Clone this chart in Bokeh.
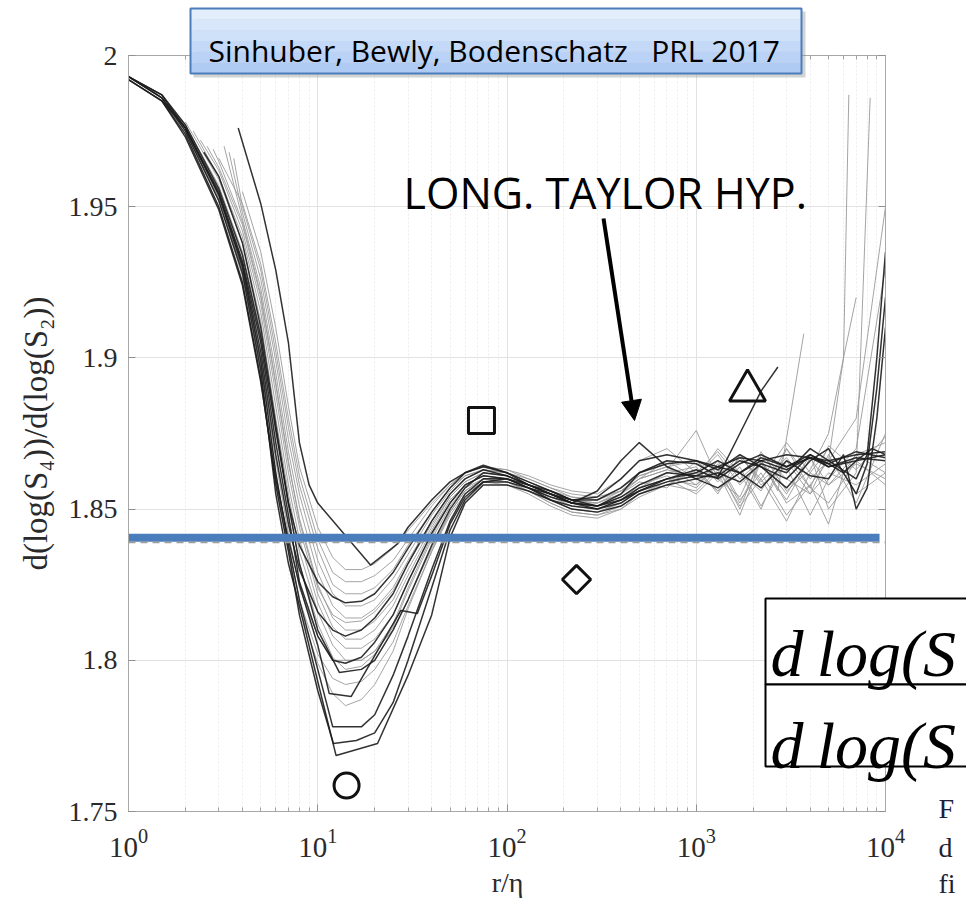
from bokeh.plotting import figure
from bokeh.layouts import column
from bokeh.models import (LogAxis, LinearAxis, FixedTicker, Label, Arrow, NormalHead, Span, Range1d)
from bokeh.core.properties import value
from bokeh.embed import file_html
from bokeh.resources import INLINE

# ---------------- data ----------------
x_major = [1, 10, 100, 1000, 10000]
y_major = [1.75, 1.8, 1.85, 1.9, 1.95, 2.0]

# dark curves: (r/eta, dlogS4/dlogS2)
d1 = [(1,1.993),(1.5,1.986),(2,1.975),(3,1.952),(4,1.928),(5,1.896),(6,1.855),(7,1.832),(8,1.818),(10,1.793),(12.5,1.7685),(20.7,1.7725),(30,1.795),(40,1.815),(50,1.8405),(60,1.852),(75,1.858),(100,1.858),(130,1.856),(170,1.853),(220,1.851),(300,1.850),(400,1.852),(500,1.856),(700,1.859),(1000,1.861),(1300,1.864),(1700,1.862),(2200,1.866),(3000,1.863),(4000,1.867),(5000,1.864),(7000,1.866),(10000,1.868)]
d2 = [(1,1.992),(1.5,1.985),(2,1.974),(3,1.950),(4,1.925),(5,1.893),(6,1.858),(7,1.836),(8,1.815),(10,1.790),(12.1,1.7725),(16,1.7735),(20,1.776),(25,1.786),(30,1.800),(40,1.824),(50,1.843),(60,1.853),(75,1.859),(100,1.859),(130,1.857),(170,1.855),(220,1.852),(300,1.851),(400,1.853),(500,1.856),(700,1.860),(1000,1.863),(1300,1.860),(1700,1.865),(2200,1.868),(3000,1.864),(4000,1.867),(5000,1.865),(7000,1.869),(10000,1.867)]
d3 = [(1,1.993),(1.5,1.987),(2,1.976),(3,1.954),(4,1.930),(5,1.899),(6,1.862),(7,1.838),(8,1.820),(10,1.797),(12,1.778),(17,1.778),(20,1.782),(25,1.795),(30,1.808),(40,1.830),(50,1.846),(60,1.855),(75,1.860),(100,1.860),(130,1.857),(170,1.854),(220,1.852),(300,1.851),(400,1.854),(500,1.858),(700,1.862),(1000,1.861),(1300,1.8605),(1700,1.875),(2200,1.889),(2700,1.897)]
d4 = [(1,1.992),(1.5,1.985),(2,1.973),(3,1.949),(4,1.924),(5,1.892),(6,1.860),(7,1.840),(8,1.825),(10,1.805),(11.5,1.789),(15,1.788),(27.5,1.8165),(33.6,1.8155),(40,1.828),(50,1.845),(60,1.854),(75,1.859),(100,1.860),(130,1.858),(170,1.855),(220,1.852),(300,1.850),(400,1.853),(500,1.857),(700,1.860),(1000,1.862),(1300,1.866),(1700,1.862),(2200,1.867),(3000,1.864),(4000,1.868),(5000,1.865),(6000,1.862),(7000,1.866),(8500,1.870),(10000,1.868)]
d5 = [(1,1.993),(1.5,1.987),(2,1.977),(3,1.956),(4,1.934),(5,1.907),(6,1.876),(7,1.852),(8,1.838),(10,1.826),(12,1.821),(14,1.819),(17,1.8195),(20,1.822),(25,1.829),(30,1.837),(40,1.849),(50,1.857),(60,1.862),(75,1.8645),(100,1.862),(130,1.858),(170,1.855),(220,1.853),(300,1.854),(400,1.860),(500,1.866),(700,1.868),(1000,1.866),(1300,1.864),(1700,1.867),(2200,1.866),(3000,1.868),(4000,1.867),(5000,1.866),(7000,1.868),(10000,1.869)]
d6 = [(3.8,1.976),(5,1.951),(6,1.929),(7,1.905),(8,1.872),(9,1.858),(10,1.852),(19,1.8315),(26.5,1.8386),(30,1.844),(40,1.853),(50,1.859),(60,1.862),(75,1.864),(100,1.862),(130,1.859),(170,1.856),(220,1.853),(300,1.853),(400,1.857),(500,1.862),(700,1.866),(1000,1.865),(1300,1.861),(1700,1.866),(2200,1.864),(3000,1.857),(4000,1.866),(5000,1.870),(6000,1.862),(7000,1.855),(8000,1.865),(9000,1.890),(10000,1.920)]
d7 = [(1,1.993),(1.5,1.986),(2,1.976),(3,1.954),(4,1.931),(5,1.902),(6,1.868),(7,1.845),(8,1.830),(10,1.816),(12,1.810),(14,1.808),(17,1.810),(20,1.814),(25,1.822),(30,1.832),(40,1.846),(50,1.855),(60,1.860),(75,1.863),(100,1.861),(130,1.858),(170,1.855),(220,1.852),(300,1.856),(400,1.866),(500,1.872),(700,1.864),(1000,1.860),(1300,1.862),(1700,1.859),(2200,1.865),(3000,1.862),(4000,1.870),(5000,1.866),(7000,1.860),(8000,1.868),(9000,1.900),(10000,1.935)]
d8 = [(1.5,1.985),(2,1.976),(3,1.955),(4,1.932),(5,1.905),(6,1.872),(7,1.848),(8,1.826),(10,1.808),(12,1.800),(14,1.799),(17,1.801),(20,1.806),(25,1.815),(30,1.826),(40,1.842),(50,1.852),(60,1.858),(75,1.861),(100,1.860),(130,1.857),(170,1.853),(220,1.850),(300,1.849),(400,1.851),(500,1.855),(700,1.858),(1000,1.860),(1300,1.857),(1700,1.862),(2200,1.857),(3000,1.866),(4000,1.861),(5000,1.860),(6000,1.868),(7000,1.850),(8000,1.857),(9000,1.880),(10000,1.910)]
d9 = [(2.5,1.968),(3,1.960),(4,1.938),(5,1.910),(6,1.878),(7,1.852),(8,1.832),(10,1.810),(13,1.796),(17,1.797),(20,1.800),(25,1.810),(30,1.820),(40,1.838),(50,1.850),(60,1.857),(75,1.862),(100,1.861),(130,1.858),(170,1.856),(220,1.853),(300,1.851),(400,1.855),(500,1.862),(700,1.865),(1000,1.866),(1300,1.863),(1700,1.868),(2200,1.864),(3000,1.860),(4000,1.868),(5000,1.864),(7000,1.867),(10000,1.866)]

# light curves
l1 = [(1.6,1.984),(2,1.977),(3,1.957),(4,1.935),(5,1.908),(6,1.876),(7,1.851),(8,1.832),(10,1.812),(12,1.801),(14,1.797),(17,1.798),(20,1.802),(25,1.811),(30,1.823),(40,1.840),(50,1.851),(60,1.857),(75,1.860),(100,1.859),(130,1.856),(170,1.852),(220,1.849),(300,1.848),(400,1.851),(500,1.855),(700,1.859),(1000,1.862),(1300,1.856),(1700,1.864),(2200,1.851),(3000,1.866),(4000,1.855),(5000,1.862),(7000,1.858),(10000,1.865)]
l2 = [(2,1.978),(3,1.959),(4,1.938),(5,1.912),(6,1.880),(7,1.855),(8,1.836),(10,1.816),(12,1.805),(14,1.800),(17,1.800),(20,1.803),(25,1.812),(30,1.824),(40,1.841),(50,1.852),(60,1.858),(75,1.861),(100,1.860),(130,1.857),(170,1.853),(220,1.850),(300,1.849),(400,1.852),(500,1.857),(700,1.860),(1000,1.858),(1300,1.866),(1700,1.853),(2200,1.862),(3000,1.848),(4000,1.858),(5000,1.866),(6000,1.900),(6400,1.987)]
l3 = [(2.2,1.975),(3,1.960),(4,1.940),(5,1.915),(6,1.884),(7,1.858),(8,1.840),(10,1.819),(12,1.808),(14,1.804),(17,1.804),(20,1.807),(25,1.815),(30,1.826),(40,1.842),(50,1.852),(60,1.858),(75,1.861),(100,1.860),(130,1.857),(170,1.854),(220,1.851),(300,1.850),(400,1.853),(500,1.858),(700,1.861),(1000,1.857),(1300,1.865),(1700,1.852),(2200,1.866),(3000,1.855),(4000,1.868),(5000,1.850),(7000,1.862),(8300,1.986)]
l4 = [(2.4,1.972),(3,1.962),(4,1.942),(5,1.918),(6,1.888),(7,1.862),(8,1.844),(10,1.822),(12,1.811),(14,1.807),(17,1.807),(20,1.810),(25,1.818),(30,1.828),(40,1.843),(50,1.853),(60,1.858),(75,1.861),(100,1.860),(130,1.857),(170,1.854),(220,1.852),(300,1.851),(400,1.854),(500,1.857),(700,1.862),(1000,1.864),(1300,1.855),(1700,1.868),(2200,1.858),(3000,1.864),(4000,1.848),(5000,1.860),(7000,1.870),(10000,1.930)]
l5 = [(2.6,1.970),(3,1.963),(4,1.944),(5,1.920),(6,1.891),(7,1.865),(8,1.847),(10,1.825),(12,1.814),(14,1.810),(17,1.810),(20,1.813),(25,1.820),(30,1.830),(40,1.844),(50,1.854),(60,1.859),(75,1.862),(100,1.861),(130,1.858),(170,1.855),(220,1.852),(300,1.852),(400,1.855),(500,1.859),(700,1.857),(1000,1.866),(1300,1.860),(1700,1.854),(2200,1.869),(3000,1.856),(4000,1.863),(5000,1.875),(6000,1.900),(7000,1.920)]
l6 = [(3.2,1.970),(4,1.946),(5,1.923),(6,1.895),(7,1.869),(8,1.851),(10,1.829),(12,1.818),(14,1.814),(17,1.814),(20,1.817),(25,1.824),(30,1.833),(40,1.846),(50,1.855),(60,1.860),(75,1.863),(100,1.862),(130,1.859),(170,1.856),(220,1.853),(300,1.852),(400,1.855),(500,1.860),(700,1.863),(1000,1.861),(1300,1.868),(1700,1.858),(2200,1.865),(3000,1.853),(4000,1.867),(5000,1.858),(7000,1.865),(10000,1.860)]
l7 = [(3.4,1.968),(4,1.948),(5,1.926),(6,1.899),(7,1.873),(8,1.855),(10,1.833),(12,1.822),(14,1.818),(17,1.818),(20,1.820),(25,1.827),(30,1.835),(40,1.848),(50,1.856),(60,1.861),(75,1.863),(100,1.862),(130,1.859),(170,1.856),(220,1.854),(300,1.853),(400,1.857),(500,1.861),(700,1.864),(1000,1.858),(1300,1.864),(1700,1.850),(2200,1.868),(3000,1.860),(4000,1.855),(5000,1.868),(7000,1.852),(10000,1.875)]
l8 = [(3.6,1.966),(4,1.950),(5,1.929),(6,1.902),(7,1.877),(8,1.858),(10,1.837),(12,1.825),(14,1.822),(17,1.822),(20,1.824),(25,1.830),(30,1.838),(40,1.849),(50,1.857),(60,1.861),(75,1.863),(100,1.862),(130,1.860),(170,1.857),(220,1.854),(300,1.853),(400,1.856),(500,1.860),(700,1.866),(1000,1.860),(1300,1.870),(1700,1.862),(2200,1.856),(3000,1.870),(4000,1.860),(5000,1.866),(7000,1.880),(10000,1.950)]
l9 = [(3,1.966),(4,1.951),(5,1.931),(6,1.905),(7,1.880),(8,1.861),(10,1.840),(12,1.829),(14,1.826),(17,1.826),(20,1.828),(25,1.833),(30,1.840),(40,1.851),(50,1.858),(60,1.862),(75,1.864),(100,1.863),(130,1.860),(170,1.857),(220,1.855),(300,1.854),(400,1.856),(500,1.861),(700,1.864),(1000,1.866),(1300,1.859),(1700,1.867),(2200,1.860),(3000,1.872),(4000,1.862),(5000,1.858),(7000,1.868),(10000,1.862)]
l10 = [(1.5,1.985),(2,1.975),(3,1.953),(4,1.929),(5,1.900),(6,1.866),(7,1.842),(8,1.824),(10,1.808),(12,1.800),(17,1.800),(20,1.803),(25,1.810),(30,1.820),(40,1.837),(50,1.849),(60,1.856),(75,1.860),(100,1.859),(130,1.856),(170,1.853),(220,1.850),(300,1.849),(400,1.852),(500,1.856),(700,1.860),(1000,1.855),(1300,1.862),(1700,1.848),(2200,1.866),(3000,1.852),(4000,1.858),(5000,1.845),(6000,1.862),(7000,1.868),(10000,1.872)]
l11 = [(1.2,1.990),(1.5,1.986),(2,1.975),(3,1.952),(4,1.927),(5,1.895),(6,1.859),(7,1.836),(8,1.817),(10,1.799),(12,1.789),(14,1.785),(17,1.787),(20,1.792),(25,1.803),(30,1.817),(40,1.836),(50,1.849),(60,1.856),(75,1.860),(100,1.859),(130,1.856),(170,1.852),(220,1.849),(300,1.848),(400,1.850),(500,1.855),(700,1.858),(1000,1.863),(1300,1.856),(1700,1.862),(2200,1.850),(3000,1.870),(4000,1.857),(5000,1.852),(7000,1.866),(10000,1.858)]
l12 = [(4,1.955),(5,1.935),(6,1.910),(7,1.884),(8,1.864),(10,1.844),(12,1.834),(14,1.830),(17,1.830),(20,1.832),(25,1.837),(30,1.843),(40,1.852),(50,1.858),(60,1.862),(75,1.864),(100,1.863),(130,1.861),(170,1.858),(220,1.856),(300,1.855),(400,1.860),(500,1.866),(700,1.870),(1000,1.862),(1300,1.869),(1700,1.860),(2200,1.866),(2700,1.856),(3700,1.908)]
l13 = [(1.3,1.989),(1.5,1.986),(2,1.976),(3,1.953),(4,1.929),(5,1.898),(6,1.862),(7,1.838),(8,1.820),(10,1.802),(12,1.794),(14,1.792),(17,1.793),(20,1.797),(25,1.806),(30,1.818),(40,1.836),(50,1.848),(60,1.855),(75,1.859),(100,1.858),(130,1.855),(170,1.851),(220,1.848),(300,1.847),(400,1.850),(500,1.854),(700,1.858),(1000,1.856),(1300,1.863),(1700,1.851),(2200,1.860),(3000,1.846),(4000,1.862),(5000,1.870),(7000,1.855),(10000,1.862)]
l14 = [(2.8,1.969),(3,1.965),(4,1.945),(5,1.921),(6,1.892),(7,1.866),(8,1.846),(10,1.824),(12,1.815),(14,1.8125),(17,1.813),(20,1.816),(25,1.823),(30,1.832),(40,1.845),(50,1.854),(60,1.859),(75,1.862),(100,1.861),(130,1.858),(170,1.855),(220,1.853),(300,1.852),(400,1.856),(500,1.860),(700,1.863),(1000,1.876),(1300,1.860),(1700,1.868),(2200,1.859),(3000,1.867),(4000,1.857),(5000,1.871),(7000,1.863),(10000,1.874)]

dark_curves = [d1, d2, d3, d4, d5, d6, d7, d8, d9]
light_curves = [l1, l2, l3, l4, l5, l6, l7, l8, l9, l10, l11, l12, l13, l14]

# reference levels
blue_level = 1.8405
blue_span = [1, 9300]
dashed_level = 1.839

# symbols
sym_x = [14.2, 73.3, 1866]
sym_y = [1.7586, 1.8793, 1.8892]
sym_marker = ["circle", "square", "triangle"]
sym_size = [25, 26, 36]
diamond_x = [233]
diamond_y = [1.8267]

# texts
title_text = "Sinhuber, Bewly, Bodenschatz\u00a0\u00a0\u00a0PRL 2017"
note_text = "LONG. TAYLOR HYP."
ylabel_text = "d(log(S\u2084))/d(log(S\u2082))"
xlabel_text = "r/\u03b7"
formula_text = "d\u2009log(S"
caption_bits = ["F", "d", "fi"]

W, H = 966, 899

# ---------------- main figure ----------------
p = figure(width=W, height=H, x_axis_type="log", title=None,
           x_range=Range1d(1, 10000), y_range=Range1d(1.75, 2.0),
           output_backend="svg", toolbar_location=None,
           min_border_left=128, min_border_right=81, min_border_top=55, min_border_bottom=88)
p.frame_align = False
p.background_fill_color = "white"
p.border_fill_color = "white"
p.outline_line_color = "#a8a8a8"

x_minor = [m * d for d in [1, 10, 100, 1000] for m in range(2, 10)]
p.xaxis.ticker = FixedTicker(ticks=x_major, minor_ticks=x_minor)
p.yaxis.ticker = FixedTicker(ticks=y_major)
p.yaxis.major_label_overrides = {1.75: "1.75", 1.8: "1.8", 1.85: "1.85", 1.9: "1.9", 1.95: "1.95", 2: "2"}

for ax in p.xaxis + p.yaxis:
    ax.axis_line_color = "#a8a8a8"
    ax.major_tick_line_color = "#909090"
    ax.minor_tick_line_color = "#a0a0a0"
    ax.major_tick_in = 7
    ax.major_tick_out = 0
    ax.minor_tick_in = 4
    ax.minor_tick_out = 0
    ax.major_label_text_font = "Liberation Serif"
    ax.major_label_text_color = "#2a2a2a"
p.yaxis.minor_tick_line_color = None
p.xaxis.major_label_text_font_size = "29px"
p.yaxis.major_label_text_font_size = "28px"
p.xaxis.major_label_standoff = 17
p.yaxis.major_label_standoff = 11
p.yaxis.axis_label = ylabel_text
p.yaxis.axis_label_text_font = "Liberation Serif"
p.yaxis.axis_label_text_font_style = "normal"
p.yaxis.axis_label_text_font_size = "33px"
p.yaxis.axis_label_text_color = "#2a2a2a"
p.yaxis.axis_label_standoff = 12

# mirrored axes (ticks only)
rax = LinearAxis(ticker=FixedTicker(ticks=y_major), major_label_text_color=None,
                 axis_line_color="#a8a8a8", major_tick_line_color="#909090",
                 major_tick_in=7, major_tick_out=0, minor_tick_line_color=None)
p.add_layout(rax, "right")
tax = LogAxis(ticker=FixedTicker(ticks=x_major, minor_ticks=x_minor), major_label_text_color=None,
              major_label_text_font_size="8px",
              axis_line_color="#a8a8a8", major_tick_line_color="#909090", minor_tick_line_color="#a0a0a0",
              major_tick_in=7, major_tick_out=0, minor_tick_in=4, minor_tick_out=0)
p.add_layout(tax, "above")

p.xgrid.grid_line_color = "#e2e2e2"
p.xgrid.minor_grid_line_color = "#ececec"
p.xgrid.minor_grid_line_dash = "2 2"
p.ygrid.grid_line_color = "#e2e2e2"

for c in light_curves:
    p.line([pt[0] for pt in c], [pt[1] for pt in c], line_color="#9a9a9a", line_width=1.0, line_alpha=0.9)
for c in dark_curves:
    p.line([pt[0] for pt in c], [pt[1] for pt in c], line_color="#1c1c1c", line_width=1.5, line_alpha=0.9)

p.add_layout(Span(location=dashed_level, dimension="width", line_color="#9c9c9c",
                  line_dash="7 5", line_width=1.8))
p.line(blue_span, [blue_level, blue_level], line_color="#4a7dbb", line_width=8)

p.scatter(sym_x, sym_y, marker=sym_marker, size=sym_size, fill_color=None,
          line_color="#111111", line_width=3)
p.scatter(diamond_x, diamond_y, marker="square", angle=0.7854, size=20, fill_color=None,
          line_color="#111111", line_width=3)

p.add_layout(Arrow(end=NormalHead(size=20, fill_color="black", line_color="black"),
                   x_start=323.6, y_start=1.9461, x_end=472, y_end=1.8793,
                   line_width=4, line_color="black"))
p.add_layout(Label(x=28.4, y=1.9547, text=note_text, text_font="Open Sans",
                   text_font_size="43px", text_color="black", text_baseline="alphabetic"))

# ---------------- overlay (slide annotations, pixel space) ----------------
ov = figure(width=W, height=H, x_range=Range1d(0, W), y_range=Range1d(H, 0),
            output_backend="svg", toolbar_location=None, title=None,
            x_axis_location=None, y_axis_location=None, min_border=0)
ov.frame_align = False
ov.grid.visible = False
ov.background_fill_alpha = 0
ov.border_fill_alpha = 0
ov.outline_line_color = None
ov.styles = {"position": "absolute", "left": "0px", "top": "0px"}

# title box with shadow and vertical gradient
ov.quad(left=[193], right=[805], top=[11], bottom=[77], fill_color="#808080", fill_alpha=0.35, line_color=None)
strip_cols = ["#e3eefc", "#d9e7fb", "#cfe0f9", "#c4d9f7", "#bad2f5", "#b0cbf3"]
n = len(strip_cols)
ov.quad(left=[190] * n, right=[801] * n,
        top=[8 + 65 * i / n for i in range(n)], bottom=[8 + 65 * (i + 1) / n for i in range(n)],
        fill_color=strip_cols, line_color=None)
ov.quad(left=[190], right=[801], top=[8], bottom=[73], fill_color=None, line_color="#4a7dbb", line_width=2)
ov.text(x=[208], y=[50], text=[title_text], text_font=value("Open Sans"), text_font_size="30px",
        text_color="black", text_baseline="alphabetic")

# formula box (cut by the slide edge)
ov.quad(left=[765, 765], right=[990, 990], top=[598, 684], bottom=[684, 766],
        fill_color="white", line_color="black", line_width=2)
ov.text(x=[770, 770], y=[653, 745], text=[formula_text, formula_text], text_font=value("Liberation Serif"),
        text_font_style="italic", text_font_size="66px", text_color="black", text_baseline="alphabetic")

# caption fragments and x label
ov.text(x=[938, 938, 938], y=[808, 847, 883], text=caption_bits, text_font=value("Liberation Serif"),
        text_font_size="28px", text_color="#1f1f3a", text_baseline="alphabetic")
ov.text(x=[507], y=[882], text=[xlabel_text], text_font=value("Liberation Serif"),
        text_font_size="28px", text_color="#2a2a2a", text_align="center", text_baseline="alphabetic")

layout = column(p, ov, spacing=0)
open("out.html", "w").write(file_html(layout, INLINE))
